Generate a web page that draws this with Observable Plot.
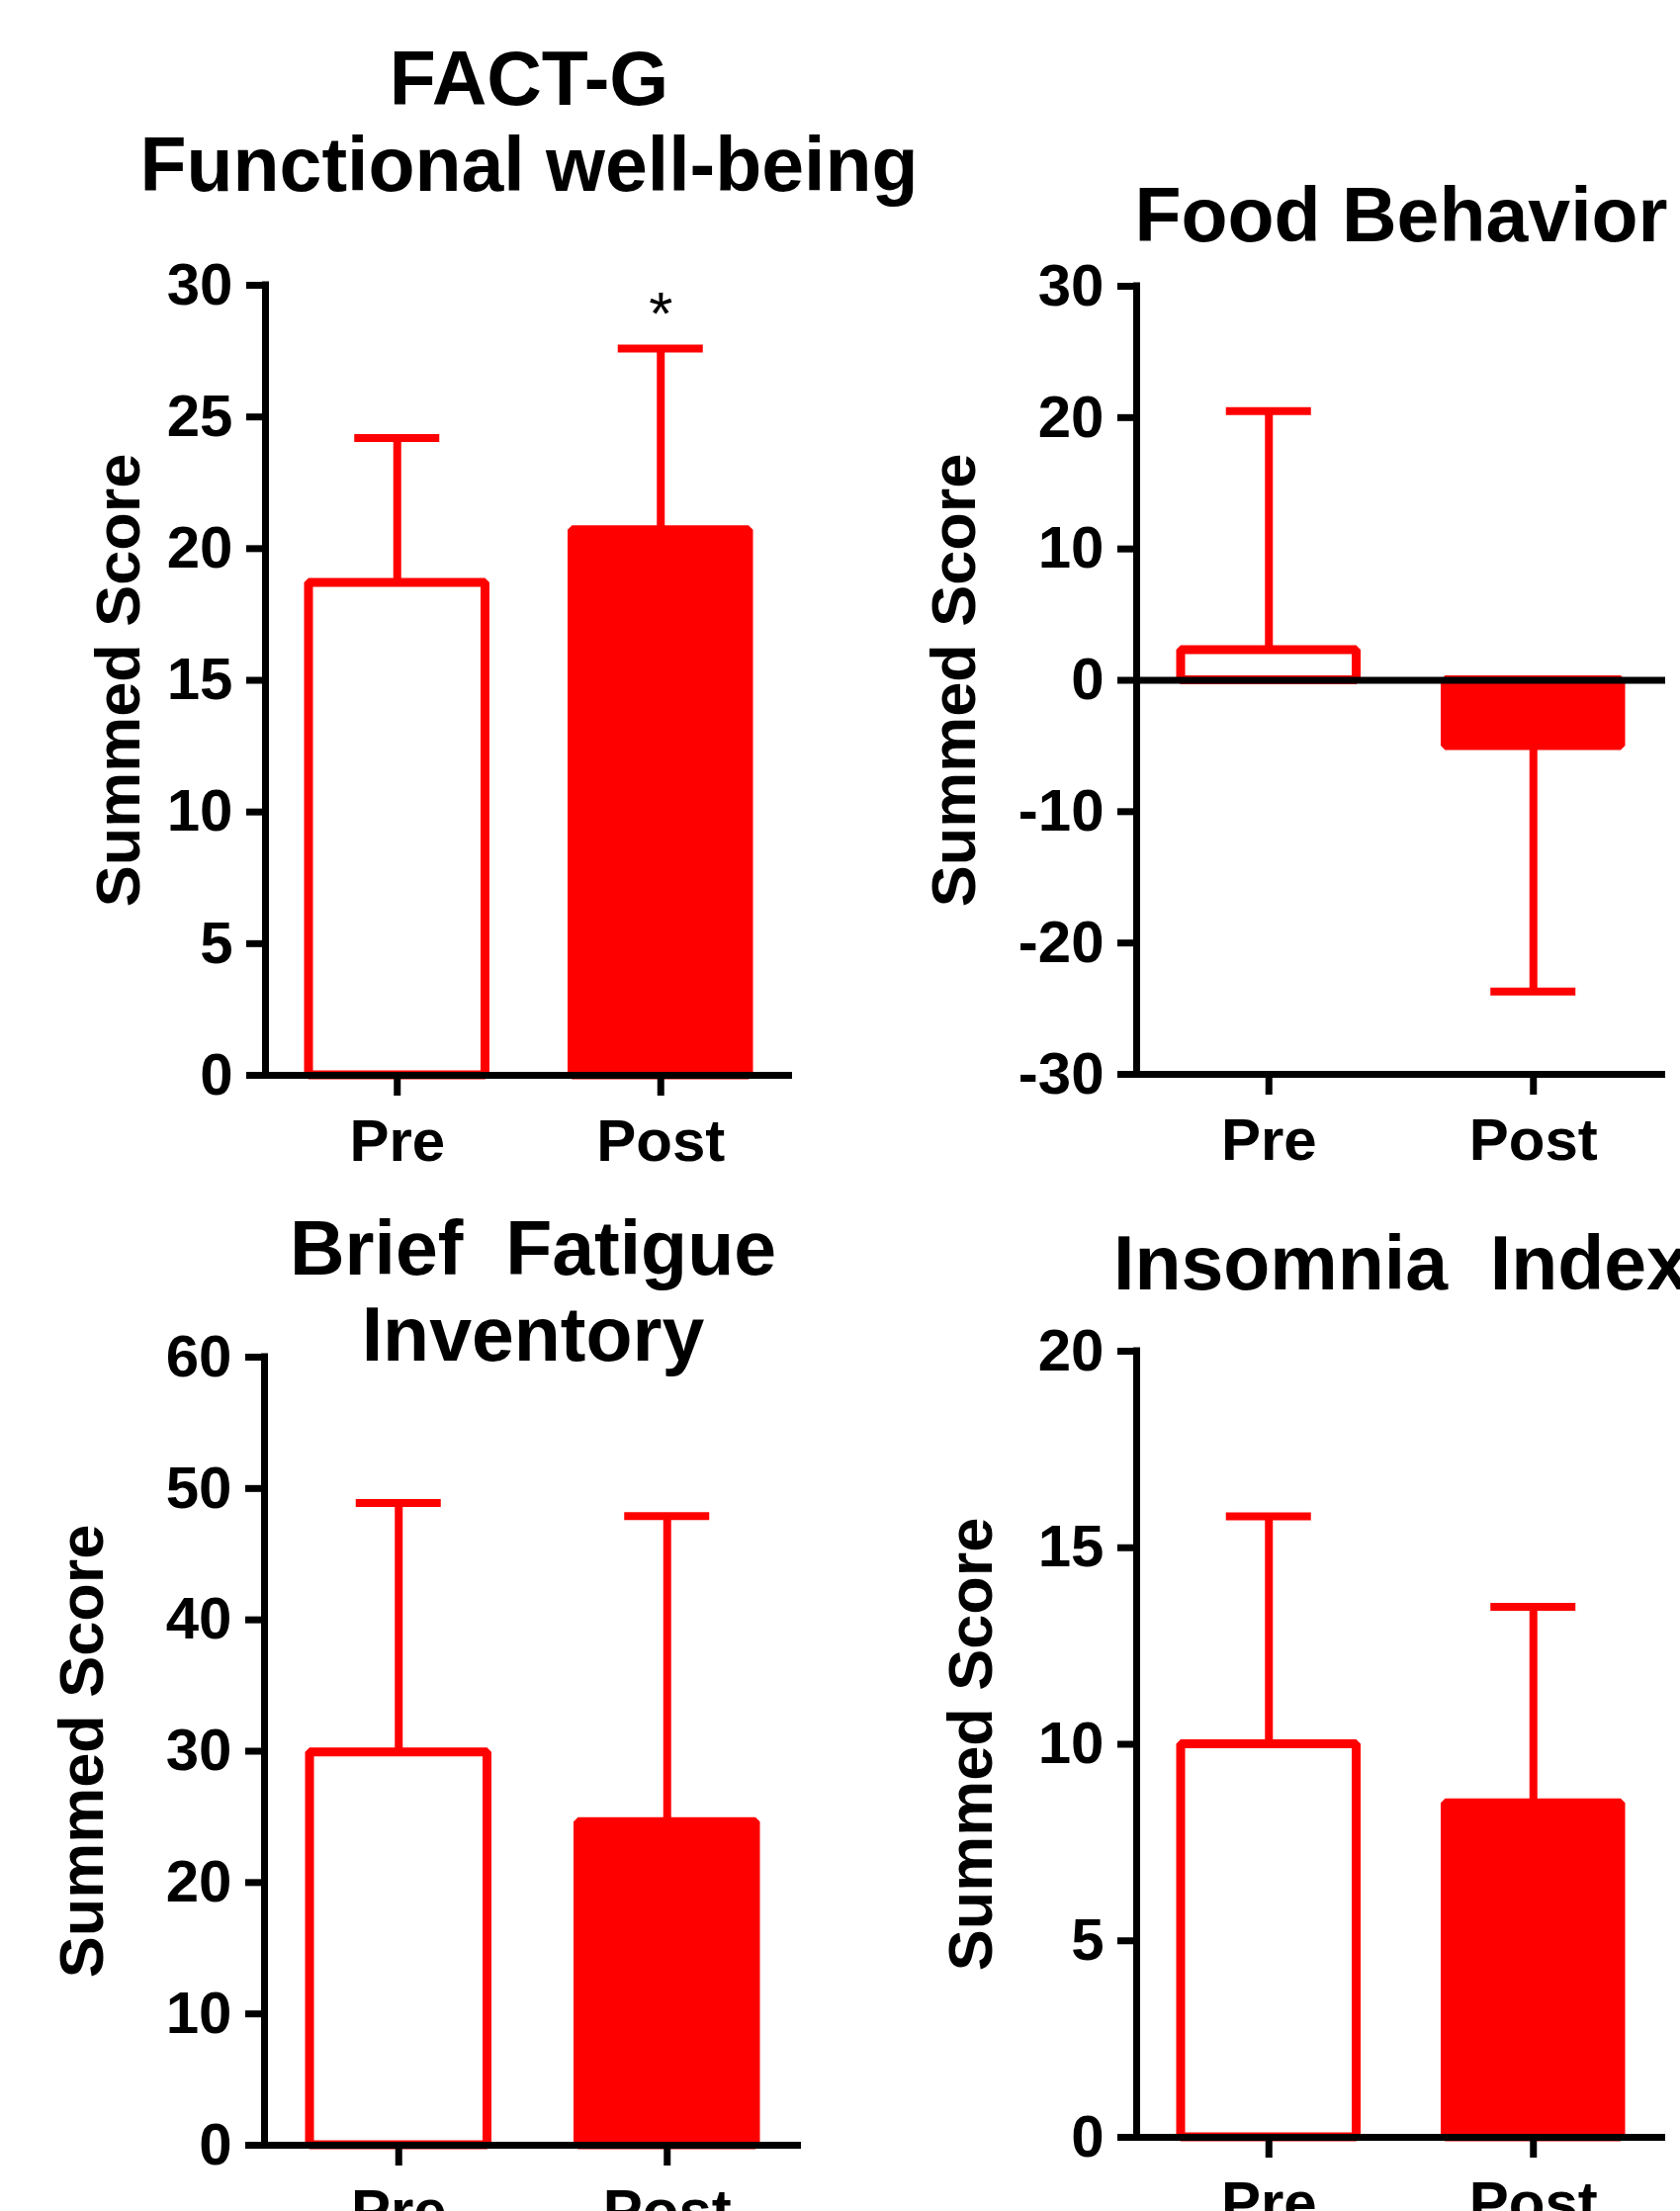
<!DOCTYPE html>
<html>
<head>
<meta charset="utf-8">
<script src="https://cdn.jsdelivr.net/npm/d3@7"></script>
<script src="https://cdn.jsdelivr.net/npm/@observablehq/plot@0.6"></script>
<style>
html, body { margin: 0; padding: 0; background: #fff; }
#page { position: relative; width: 1699px; height: 2236px; overflow: hidden; background: #fff; }
.panel { position: absolute; }
.panel svg { overflow: visible; max-width: none !important; }
svg text { white-space: pre; }
</style>
</head>
<body>
<div id="page"></div>
<script>
// ---- data ----
const categories = ["Pre", "Post"];

const factgMean = [18.7, 20.7];
const factgSD = [5.5, 6.9];
const factgTicks = [0, 5, 10, 15, 20, 25, 30];

const foodMean = [2.3, -5.0];
const foodSD = [18.2, 18.7];
const foodTicks = [-30, -20, -10, 0, 10, 20, 30];

const bfiMean = [29.9, 24.6];
const bfiSD = [19.0, 23.3];
const bfiTicks = [0, 10, 20, 30, 40, 50, 60];

const isiMean = [10.0, 8.5];
const isiSD = [5.8, 5.0];
const isiTicks = [0, 5, 10, 15, 20];

const titles = ["FACT-G\nFunctional well-being", "Food Behavior", "Brief  Fatigue\nInventory", "Insomnia  Index"];
const yLabel = "Summed Score";
const factgSignificance = [{category: "Post", y: 28.9, text: "*"}];

// ---- styling / layout ----
const RED = "#ff0000";
const FONT = "'Liberation Sans', Arial, Helvetica, sans-serif";
const barFills = ["#ffffff", RED];

const panels = [
  {mean: factgMean, sd: factgSD, ticks: factgTicks, title: titles[0], notes: factgSignificance,
   left: 0, top: 0, width: 849, height: 1200, ml: 268, mr: 48, mt: 288, mb: 113, titleDy: -96, labelDx: -128, inset: 44},
  {mean: foodMean, sd: foodSD, ticks: foodTicks, title: titles[1], notes: [],
   left: 849, top: 0, width: 850, height: 1200, ml: 300, mr: 15, mt: 289, mb: 114, titleDy: -46, labelDx: -164, inset: 45},
  {mean: bfiMean, sd: bfiSD, ticks: bfiTicks, title: titles[2], notes: [],
   left: 0, top: 1200, width: 849, height: 1036, ml: 267, mr: 39, mt: 172, mb: 67, titleDy: 3, labelDx: -164, inset: 46},
  {mean: isiMean, sd: isiSD, ticks: isiTicks, title: titles[3], notes: [],
   left: 849, top: 1200, width: 850, height: 1036, ml: 300, mr: 15, mt: 166, mb: 75, titleDy: -63, labelDx: -147, inset: 45}
];

const page = document.getElementById("page");

for (const p of panels) {
  const data = categories.map((c, i) => ({
    c, i, mean: p.mean[i], sd: p.sd[i],
    end: p.mean[i] >= 0 ? p.mean[i] + p.sd[i] : p.mean[i] - p.sd[i]
  }));
  const ymin = d3.min(p.ticks), ymax = d3.max(p.ticks);
  const step = (p.width - p.ml - p.mr) / categories.length;
  const capHalf = 43 / step;
  const baseLines = Array.from(new Set([ymin, 0]));

  const chart = Plot.plot({
    width: p.width,
    height: p.height,
    marginLeft: p.ml, marginRight: p.mr, marginTop: p.mt, marginBottom: p.mb,
    style: {fontFamily: FONT, fontWeight: "bold", color: "black", background: "transparent", overflow: "visible"},
    x: {domain: [0, categories.length]},
    y: {domain: [ymin, ymax]},
    color: {type: "identity"},
    marks: [
      // error bars
      Plot.ruleX(data, {x: d => d.i + 0.5, y1: "mean", y2: "end", stroke: RED, strokeWidth: 8}),
      Plot.ruleY(data, {y: "end", x1: d => d.i + 0.5 - capHalf, x2: d => d.i + 0.5 + capHalf, stroke: RED, strokeWidth: 8}),
      // bars
      Plot.rectY(data, {x1: d => d.i, x2: d => d.i + 1, y1: 0, y2: "mean",
        insetLeft: p.inset, insetRight: p.inset,
        fill: d => barFills[d.i], stroke: RED, strokeWidth: 9, strokeLinejoin: "bevel"}),
      // axis lines
      Plot.ruleY(baseLines, {x1: 0, x2: categories.length, stroke: "black", strokeWidth: 7}),
      Plot.ruleX([0], {y1: ymin, y2: ymax, stroke: "black", strokeWidth: 7, strokeLinecap: "square"}),
      Plot.axisY({ticks: p.ticks, tickFormat: d => String(d), tickSize: 19, tickPadding: 14,
        strokeWidth: 7, fontSize: 60, fontWeight: "bold", label: null, fill: "black", stroke: "black"}),
      Plot.axisX({ticks: categories.map((c, i) => i + 0.5), tickFormat: d => categories[Math.floor(d)],
        tickSize: 21, tickPadding: 23, strokeWidth: 7, fontSize: 60, fontWeight: "bold", label: null, fill: "black", stroke: "black"}),
      // title
      Plot.text([p.title], {frameAnchor: "top", text: d => d, dy: p.titleDy, lineAnchor: "bottom",
        textAnchor: "middle", lineHeight: 1.13, fontSize: 77, fontWeight: "bold", fill: "black"}),
      // y label
      Plot.text([yLabel], {frameAnchor: "left", text: d => d, rotate: -90, dx: p.labelDx,
        textAnchor: "middle", lineAnchor: "bottom", fontSize: 63, fontWeight: "bold", fill: "black"}),
      // significance markers
      Plot.text(p.notes, {x: d => categories.indexOf(d.category) + 0.5, y: "y", text: "text",
        fontSize: 62, fontWeight: "normal", fill: "black"})
    ]
  });

  const div = document.createElement("div");
  div.className = "panel";
  div.style.left = p.left + "px";
  div.style.top = p.top + "px";
  div.style.width = p.width + "px";
  div.style.height = p.height + "px";
  div.appendChild(chart);
  page.appendChild(div);
}
</script>
</body>
</html>
